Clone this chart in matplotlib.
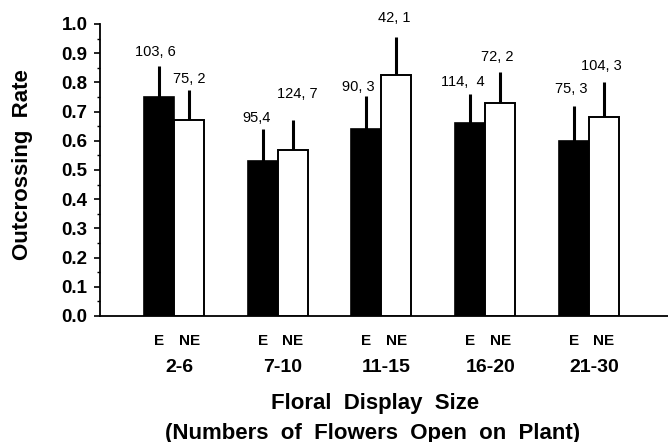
import matplotlib
matplotlib.use("Agg")
import numpy as np
from matplotlib import pyplot as plt
from matplotlib.ticker import MultipleLocator

# data
groups = ["2-6", "7-10", "11-15", "16-20", "21-30"]
rate_e = [0.75, 0.53, 0.64, 0.66, 0.60]
rate_ne = [0.67, 0.57, 0.825, 0.73, 0.68]
err_e = [0.105, 0.11, 0.115, 0.10, 0.12]
err_ne = [0.105, 0.10, 0.13, 0.105, 0.12]
labels_e = ["103, 6", "95,4", "90, 3", "114,  4", "75, 3"]
labels_ne = ["75, 2", "124, 7", "42, 1", "72, 2", "104, 3"]

plt.rcParams["font.family"] = ["Liberation Sans", "DejaVu Sans"]


def data_plot():
    fig = plt.figure(figsize=(6.68, 4.42), dpi=100)
    ax = fig.add_axes([100 / 668, 1 - 316 / 442, 568 / 668, 292 / 442])

    x = np.arange(len(groups))
    w = 0.29
    xe = x - w / 2
    xn = x + w / 2

    ax.bar(xe, rate_e, width=w, color="black", edgecolor="black", linewidth=1.2, zorder=3)
    ax.bar(xn, rate_ne, width=w, color="white", edgecolor="black", linewidth=1.4, zorder=3)

    ax.errorbar(xe, rate_e, yerr=[np.zeros(len(err_e)), err_e], fmt="none",
                ecolor="black", elinewidth=2.2, capsize=0, zorder=2)
    ax.errorbar(xn, rate_ne, yerr=[np.zeros(len(err_ne)), err_ne], fmt="none",
                ecolor="black", elinewidth=2.2, capsize=0, zorder=2)

    # sample size labels above the error bars (offsets in points)
    off_e = [(-2.5, 10), (-4.5, 8), (-6, 6), (-5, 9), (-2, 12)]
    off_n = [(0, 8), (3, 19), (-1.5, 14), (-2, 11), (-1.5, 11.5)]
    for i in range(len(groups)):
        ax.annotate(labels_e[i], (xe[i], rate_e[i] + err_e[i]), xytext=off_e[i],
                    textcoords="offset points", ha="center", va="center",
                    fontsize=10.5, annotation_clip=False)
        ax.annotate(labels_ne[i], (xn[i], rate_ne[i] + err_ne[i]), xytext=off_n[i],
                    textcoords="offset points", ha="center", va="center",
                    fontsize=10.5, annotation_clip=False)

    ax.set_xlim(-0.714, 4.764)
    ax.set_ylim(0, 1.0)
    ax.yaxis.set_major_locator(MultipleLocator(0.1))
    ax.yaxis.set_minor_locator(MultipleLocator(0.05))
    ax.yaxis.set_major_formatter(lambda v, p: f"{v:.1f}")
    ax.tick_params(axis="y", which="major", length=4, width=1.2, pad=5,
                   labelsize=13.5)
    ax.tick_params(axis="y", which="minor", length=2, width=1)
    for t in ax.get_yticklabels():
        t.set_fontweight("bold")

    ax.set_xticks(np.concatenate([xe, xn]))
    ax.set_xticklabels(["E"] * len(groups) + ["NE"] * len(groups),
                       fontsize=11, fontweight="bold")
    ax.tick_params(axis="x", length=0, pad=13)

    for i, g in enumerate(groups):
        ax.text(x[i] + 0.05, -0.178, g, ha="center", va="center", fontsize=14,
                fontweight="bold", transform=ax.get_xaxis_transform())

    for s in ["top", "right"]:
        ax.spines[s].set_visible(False)
    ax.spines["left"].set_linewidth(1.3)
    ax.spines["bottom"].set_linewidth(1.3)

    fig.text(23 / 668, 1 - 165 / 442, "Outcrossing  Rate", rotation=90,
             ha="center", va="center", fontsize=16, fontweight="bold")
    fig.text(375 / 668, 1 - 404 / 442, "Floral  Display  Size", ha="center",
             va="center", fontsize=16, fontweight="bold")
    fig.text(373 / 668, 1 - 433 / 442, "(Numbers  of  Flowers  Open  on  Plant)",
             ha="center", va="center", fontsize=16, fontweight="bold")

    fig.savefig("out.png", dpi=100)
    plt.close(fig)


if __name__ == "__main__":
    data_plot()
